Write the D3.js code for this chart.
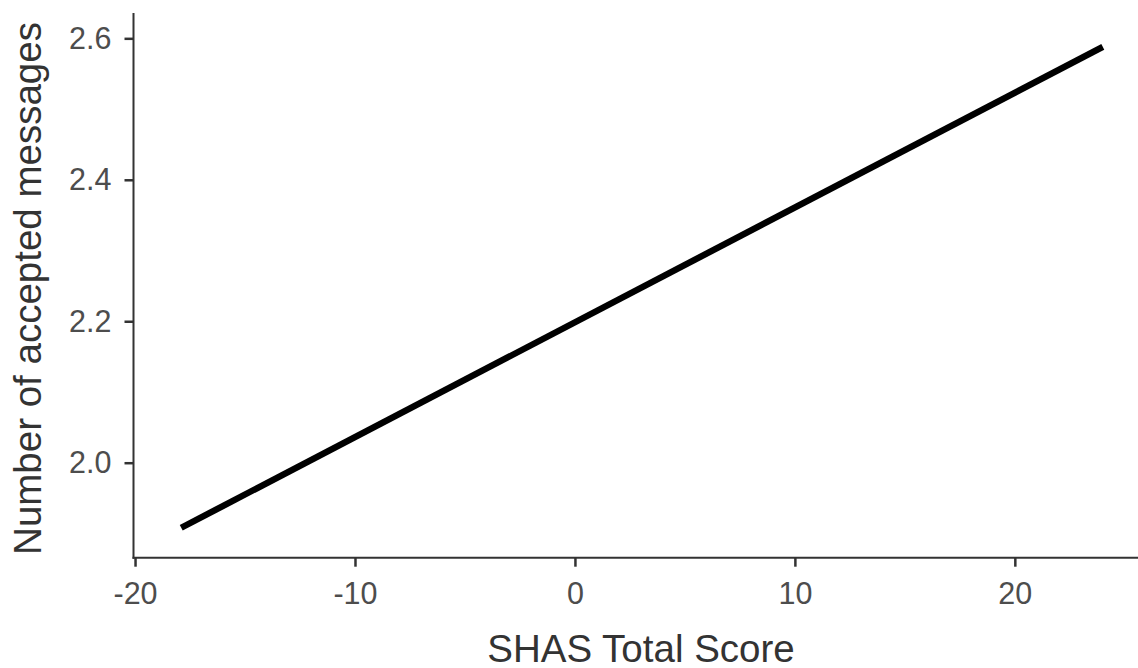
<!DOCTYPE html>
<html>
<head>
<meta charset="utf-8">
<script src="https://cdn.jsdelivr.net/npm/d3@7"></script>
<style>
  html, body { margin: 0; padding: 0; background: #fff; }
  svg { display: block; }
  text { font-family: "Liberation Sans", Arial, Helvetica, sans-serif; }
</style>
</head>
<body>
<svg id="chart" width="1138" height="668"></svg>
<script>
// Fitted line: SHAS total score vs. predicted number of accepted messages
const shasScore = [-17.9, 24.0];
const acceptedMessages = [1.908, 2.588];

// Axis ticks
const xTicks = [-20, -10, 0, 10, 20];
const yTicks = [2.0, 2.2, 2.4, 2.6];

const xTitle = "SHAS Total Score";
const yTitle = "Number of accepted messages";

(function draw() {
  const W = 1138, H = 668;
  const svg = d3.select("#chart");
  svg.append("rect").attr("width", W).attr("height", H).attr("fill", "#fff");

  // Panel bounds
  const pLeft = 133.5, pRight = 1138, pTop = 13, pBottom = 557.7;

  const x = d3.scaleLinear().domain([-20.07, 25.6]).range([pLeft, pRight]);
  const y = d3.scaleLinear().domain([1.8657, 2.6358]).range([pBottom, pTop]);

  const axisColor = "#333";
  const tickTextColor = "#4d4d4d";
  const tickFont = 30.5;

  // X axis (plain hyphen for negatives)
  const xAxis = svg.append("g").attr("transform", `translate(0,${pBottom})`)
    .call(d3.axisBottom(x).tickValues(xTicks).tickSize(9).tickPadding(16)
      .tickFormat(d => String(d)));
  xAxis.select(".domain").remove();
  xAxis.selectAll(".tick line").attr("stroke", axisColor).attr("stroke-width", 2.5);
  xAxis.selectAll(".tick text").attr("fill", tickTextColor).attr("font-size", tickFont)
    .attr("font-family", "Liberation Sans, Arial, sans-serif");

  // Y axis
  const yAxis = svg.append("g").attr("transform", `translate(${pLeft},0)`)
    .call(d3.axisLeft(y).tickValues(yTicks).tickSize(9).tickPadding(13)
      .tickFormat(d3.format(".1f")));
  yAxis.select(".domain").remove();
  yAxis.selectAll(".tick line").attr("stroke", axisColor).attr("stroke-width", 2.5);
  yAxis.selectAll(".tick text").attr("fill", tickTextColor).attr("font-size", tickFont)
    .attr("font-family", "Liberation Sans, Arial, sans-serif");

  // Axis lines
  svg.append("line").attr("x1", pLeft).attr("x2", pLeft).attr("y1", pTop).attr("y2", pBottom + 1)
    .attr("stroke", axisColor).attr("stroke-width", 2);
  svg.append("line").attr("x1", pLeft - 1).attr("x2", pRight).attr("y1", pBottom).attr("y2", pBottom)
    .attr("stroke", axisColor).attr("stroke-width", 2);

  // Regression line
  const pts = shasScore.map((s, i) => [s, acceptedMessages[i]]);
  svg.append("path").datum(pts)
    .attr("d", d3.line().x(d => x(d[0])).y(d => y(d[1])))
    .attr("fill", "none").attr("stroke", "#000").attr("stroke-width", 6.4)
    .attr("stroke-linecap", "butt");

  // Titles
  svg.append("text").attr("x", 641).attr("y", 661.5)
    .attr("text-anchor", "middle").attr("font-size", 38.5).attr("fill", "#333")
    .text(xTitle);
  svg.append("text").attr("transform", "translate(41,288.5) rotate(-90)")
    .attr("text-anchor", "middle").attr("font-size", 38.5).attr("fill", "#333")
    .text(yTitle);
})();
</script>
</body>
</html>
